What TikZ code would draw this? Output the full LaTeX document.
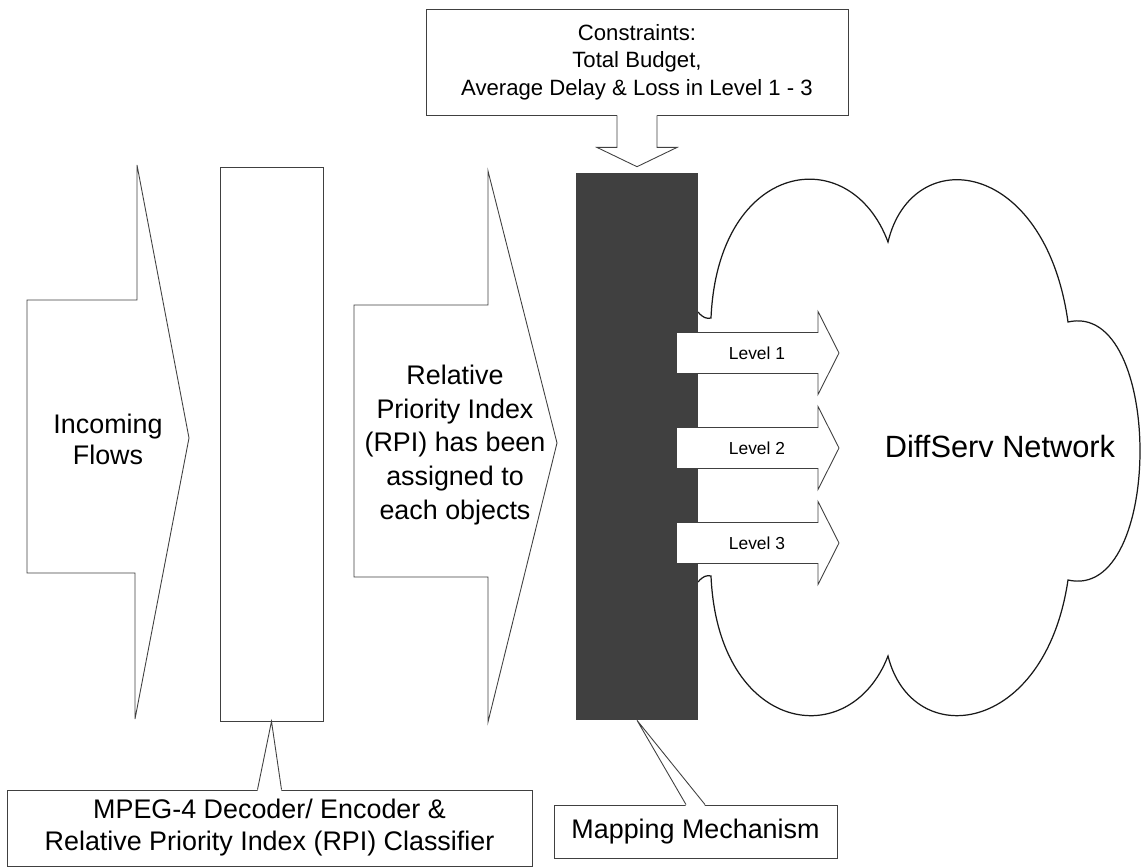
\documentclass[tikz,border=0pt]{standalone}
\usepackage{fontspec}
\setmainfont{Liberation Sans}
\usetikzlibrary{calc}

\begin{document}
\begin{tikzpicture}[
    x=0.02cm, y=-0.02cm,
    outline/.style={draw=black!75, line width=0.5pt},
    box/.style={rectangle, draw=black!75, line width=0.5pt, fill=white, inner sep=0pt, align=center},
    bigtext/.style={font=\fontsize{15.3}{18.2}\selectfont, align=center, inner sep=0pt},
    notetext/.style={font=\fontsize{12.6}{15.6}\selectfont},
    leveltext/.style={font=\fontsize{9.9}{12}\selectfont, inner sep=0pt},
    nettext/.style={font=\fontsize{17.5}{21}\selectfont, inner sep=0pt}
]
    \useasboundingbox (0,0) rectangle (1144,868);

    \draw[outline, fill=white] (27,300) -- (137,300) -- (137,165) -- (189,438) -- (135,719) -- (135,573) -- (27,573) -- cycle;
    \node[bigtext, font=\fontsize{15.3}{17.6}\selectfont] (incoming) at (108,439) {Incoming\\Flows};

    \node[box, minimum width=2.06cm, minimum height=11.08cm] (codec) at (271.5,444) {};

    \draw[outline, fill=white] (354,305) -- (488,305) -- (488,171) -- (557,443) -- (488,722) -- (488,577) -- (354,577) -- cycle;
    \node[bigtext, font=\fontsize{15.3}{19.2}\selectfont] (rpi) at (455,445) {Relative\\Priority Index\\(RPI) has been\\assigned to\\each objects};

    \draw[black!90, line width=0.7pt] (698,312) .. controls (703,318) and (707,319) .. (711,318)
        .. controls (718,160) and (850,140) .. (888,242)
        .. controls (912,142) and (1045,158) .. (1068,322)
        .. controls (1164,300) and (1164,602) .. (1068,580)
        .. controls (1045,736) and (912,752) .. (888,656)
        .. controls (850,754) and (718,734) .. (711,576)
        .. controls (707,575) and (703,576) .. (698,582);
    \node[nettext] (network) at (1000,447) {DiffServ Network};

    \node[rectangle, fill=black!75, minimum width=2.44cm, minimum height=10.94cm, inner sep=0pt] (mapper) at (637,446.5) {};

    \foreach \i/\y in {1/353, 2/448, 3/543} {
        \fill[white] (677,\y-20.5) -- (818,\y-20.5) -- (818,\y-41.5) -- (839,\y) -- (818,\y+41.5) -- (818,\y+20.5) -- (677,\y+20.5) -- cycle;
        \draw[outline] (677,\y-20.5) -- (818,\y-20.5) -- (818,\y-41.5) -- (839,\y) -- (818,\y+41.5) -- (818,\y+20.5) -- (677,\y+20.5);
        \node[leveltext] (level\i) at (757,\y) {Level \i};
    }

    \node[box, notetext, minimum width=8.44cm, minimum height=2.12cm] (constraints) at (637,62) {Constraints:\\Total Budget,\\Average Delay \& Loss in Level 1 - 3};
    \coordinate (tip) at ($(mapper.north)+(0,-6)$);
    \fill[white] ($(constraints.south)+(-20,-1.5)$) -- ($(constraints.south)+(-20,32)$) -- ($(constraints.south)+(-40,32)$) -- (tip) -- ($(constraints.south)+(40,32)$) -- ($(constraints.south)+(20,32)$) -- ($(constraints.south)+(20,-1.5)$) -- cycle;
    \draw[outline] ($(constraints.south)+(-20,0)$) -- ($(constraints.south)+(-20,32)$) -- ($(constraints.south)+(-40,32)$) -- (tip) -- ($(constraints.south)+(40,32)$) -- ($(constraints.south)+(20,32)$) -- ($(constraints.south)+(20,0)$);

    \node[box, bigtext, minimum width=10.5cm, minimum height=1.52cm] (codecnote) at (269.5,828) {MPEG-4 Decoder/ Encoder \&\\Relative Priority Index (RPI) Classifier};
    \fill[white] ($(codecnote.north)+(-12,1.5)$) -- (codec.south) -- ($(codecnote.north)+(12,1.5)$) -- cycle;
    \draw[outline] ($(codecnote.north)+(-12,0)$) -- (codec.south) -- ($(codecnote.north)+(12,0)$);

    \node[box, bigtext, minimum width=5.66cm, minimum height=1.06cm] (mapnote) at (695.5,831.5) {Mapping Mechanism};
    \fill[white] ($(mapnote.north)+(-9.5,1.5)$) -- (mapper.south) -- ($(mapnote.north)+(9.5,1.5)$) -- cycle;
    \draw[outline] ($(mapnote.north)+(-9.5,0)$) -- (mapper.south) -- ($(mapnote.north)+(9.5,0)$);
\end{tikzpicture}
\end{document}
